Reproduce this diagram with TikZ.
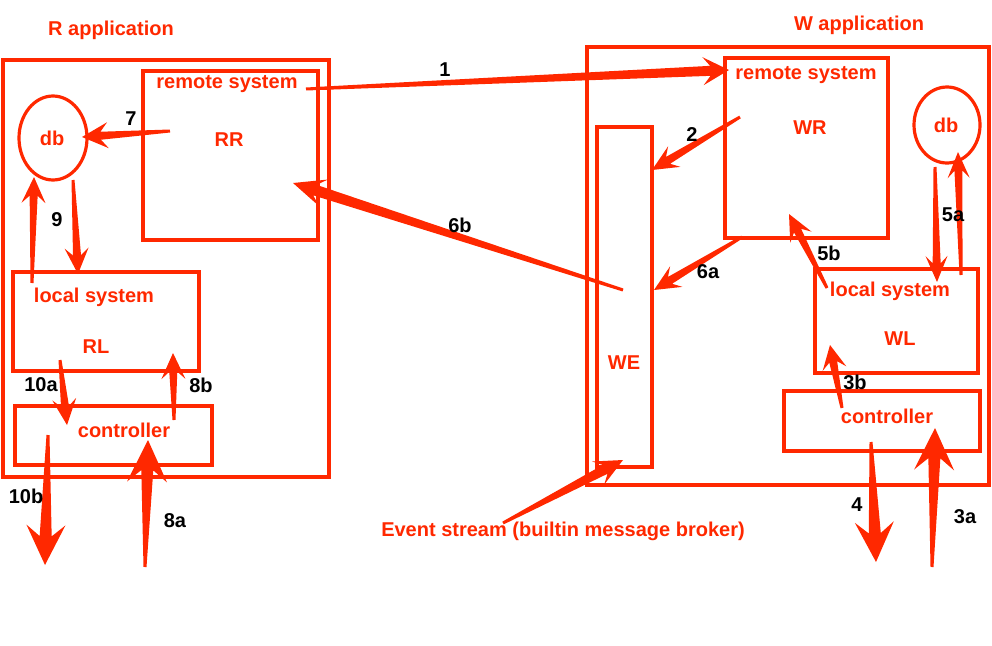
\documentclass[tikz,border=0pt]{standalone}
\usepackage{fontspec}
\setmainfont{Liberation Sans}[BoldFont=Liberation Sans Bold]
\usetikzlibrary{calc,shapes.geometric}
\definecolor{rouge}{RGB}{255,40,0}

% FLECHE EFFILEE : queue, pointe, longueur tete, largeur tete, largeur corps
\newcommand{\fleche}[5]{%
  \path (#2) coordinate (pointe) ($(#2)!#3!(#1)$) coordinate (base) ($(#2)!0.72*#3!(#1)$) coordinate (col);
  \fill[rouge] ($(#1)!1.5pt!90:(pointe)$) -- ($(col)!#5/2!90:(pointe)$) -- ($(base)!#4/2!90:(pointe)$) -- (pointe)
    -- ($(base)!#4/2!-90:(pointe)$) -- ($(col)!#5/2!-90:(pointe)$) -- ($(#1)!1.5pt!-90:(pointe)$) -- cycle;
}

\begin{document}
\begin{tikzpicture}[x=1pt,y=-1pt,
  boite/.style={draw=rouge, line width=3.2pt, rectangle, inner sep=0pt},
  rond/.style={draw=rouge, line width=3.2pt, ellipse, inner sep=0pt},
  txt/.style={text=rouge, font=\fontsize{20}{23}\selectfont\bfseries, inner sep=1pt},
  num/.style={text=black, font=\fontsize{20}{23}\selectfont\bfseries, inner sep=1pt}]
  \useasboundingbox (0,0) rectangle (992,645);

  % APPLICATION R
  \node[boite, minimum width=326pt, minimum height=417pt] (Rapp) at (166,268.5) {};
  \node[boite, minimum width=175pt, minimum height=169pt] (RR) at (230.5,155.5) {};
  \node[rond, minimum width=68pt, minimum height=84pt] (Rdb) at (53,138) {};
  \node[boite, minimum width=186pt, minimum height=99pt] (RL) at (106,321.5) {};
  \node[boite, minimum width=197pt, minimum height=59pt] (RC) at (113.5,435.5) {};

  % APPLICATION W
  \node[boite, minimum width=402pt, minimum height=438pt] (Wapp) at (788,266) {};
  \node[boite, minimum width=163pt, minimum height=180pt] (WR) at (806.5,148) {};
  \node[rond, minimum width=66pt, minimum height=76pt] (Wdb) at (947,125) {};
  \node[boite, minimum width=163pt, minimum height=104pt] (WL) at (896.5,321) {};
  \node[boite, minimum width=196pt, minimum height=60pt] (WC) at (882,421) {};
  \node[boite, minimum width=55pt, minimum height=340pt] (WE) at (624.5,297) {};

  % TEXTES
  \node[txt] (tRapp) at (111,30) {R application};
  \node[txt] (tRR1) at (227,84) {remote system};
  \node[txt] (tRR2) at (229,140) {RR};
  \node[txt] (tRdb) at (52,138) {db};
  \node[txt] (tRL1) at (94,297) {local system};
  \node[txt] (tRL2) at (96,347) {RL};
  \node[txt] (tRC) at (124,430) {controller};
  \node[txt] (tWapp) at (859,25) {W application};
  \node[txt] (tWR1) at (806,75) {remote system};
  \node[txt] (tWR2) at (810,128) {WR};
  \node[txt] (tWdb) at (946,125) {db};
  \node[txt] (tWL1) at (890,291) {local system};
  \node[txt] (tWL2) at (900,339) {WL};
  \node[txt] (tWC) at (887,416) {controller};
  \node[txt] (tWE) at (624,363) {WE};
  \node[txt] (tES) at (563,531) {Event stream (builtin message broker)};

  % EXTREMITES DES FLECHES
  \coordinate (a1) at (306,89);   \coordinate (b1) at (729,70);
  \coordinate (a2) at (740,117);  \coordinate (b2) at (652,170);
  \coordinate (a3) at (932,567);  \coordinate (b3) at (935,428);
  \coordinate (a3b) at (842,408); \coordinate (b3b) at (830,345);
  \coordinate (a4) at (871,442);  \coordinate (b4) at (876,562);
  \coordinate (a5) at (935,167);  \coordinate (b5) at (937,282);
  \coordinate (a5r) at (961,275); \coordinate (b5r) at (958,152);
  \coordinate (a5b) at (827,288); \coordinate (b5b) at (789,214);
  \coordinate (a6a) at (742,237); \coordinate (b6a) at (654,290);
  \coordinate (a6b) at (623,290); \coordinate (b6b) at (293,183);
  \coordinate (a7) at (170,131);  \coordinate (b7) at (82,137);
  \coordinate (a8) at (145,567);  \coordinate (b8) at (148,440);
  \coordinate (a8b) at (174,420); \coordinate (b8b) at (173,353);
  \coordinate (a9) at (32,283);   \coordinate (b9) at (34,177);
  \coordinate (a9b) at (73,180);  \coordinate (b9b) at (78,274);
  \coordinate (a10) at (60,360);  \coordinate (b10) at (67,425);
  \coordinate (a10b) at (48,435); \coordinate (b10b) at (45,565);
  \coordinate (aES) at (503,523); \coordinate (bES) at (623,460);

  % FLECHES
  \fleche{a1}{b1}{26pt}{28pt}{10pt}
  \fleche{a2}{b2}{26pt}{24pt}{8pt}
  \fleche{a6a}{b6a}{26pt}{24pt}{8pt}
  \fleche{a6b}{b6b}{32pt}{28pt}{11pt}
  \fleche{a7}{b7}{26pt}{26pt}{8pt}
  \fleche{a9}{b9}{26pt}{24pt}{8pt}
  \fleche{a9b}{b9b}{26pt}{24pt}{8pt}
  \fleche{a5}{b5}{26pt}{22pt}{8pt}
  \fleche{a5r}{b5r}{26pt}{22pt}{8pt}
  \fleche{a5b}{b5b}{26pt}{24pt}{8pt}
  \fleche{a3b}{b3b}{24pt}{24pt}{8pt}
  \fleche{a10}{b10}{26pt}{24pt}{8pt}
  \fleche{a8b}{b8b}{26pt}{24pt}{8pt}
  \fleche{aES}{bES}{28pt}{26pt}{10pt}
  \fleche{a8}{b8}{42pt}{40pt}{12pt}
  \fleche{a10b}{b10b}{40pt}{39pt}{12pt}
  \fleche{a4}{b4}{40pt}{39pt}{12pt}
  \fleche{a3}{b3}{42pt}{40pt}{12pt}

  % NUMEROS
  \node[num] (n1) at (445,70) {1};
  \node[num] (n2) at (692,135) {2};
  \node[num] (n3a) at (965,517) {3a};
  \node[num] (n3b) at (855,382) {3b};
  \node[num] (n4) at (857,505) {4};
  \node[num] (n5a) at (953,215) {5a};
  \node[num] (n5b) at (829,253) {5b};
  \node[num] (n6a) at (708,272) {6a};
  \node[num] (n6b) at (460,225) {6b};
  \node[num] (n7) at (131,119) {7};
  \node[num] (n8a) at (175,521) {8a};
  \node[num] (n8b) at (201,385) {8b};
  \node[num] (n9) at (57,220) {9};
  \node[num] (n10a) at (41,385) {10a};
  \node[num] (n10b) at (26,496) {10b};
\end{tikzpicture}
\end{document}
